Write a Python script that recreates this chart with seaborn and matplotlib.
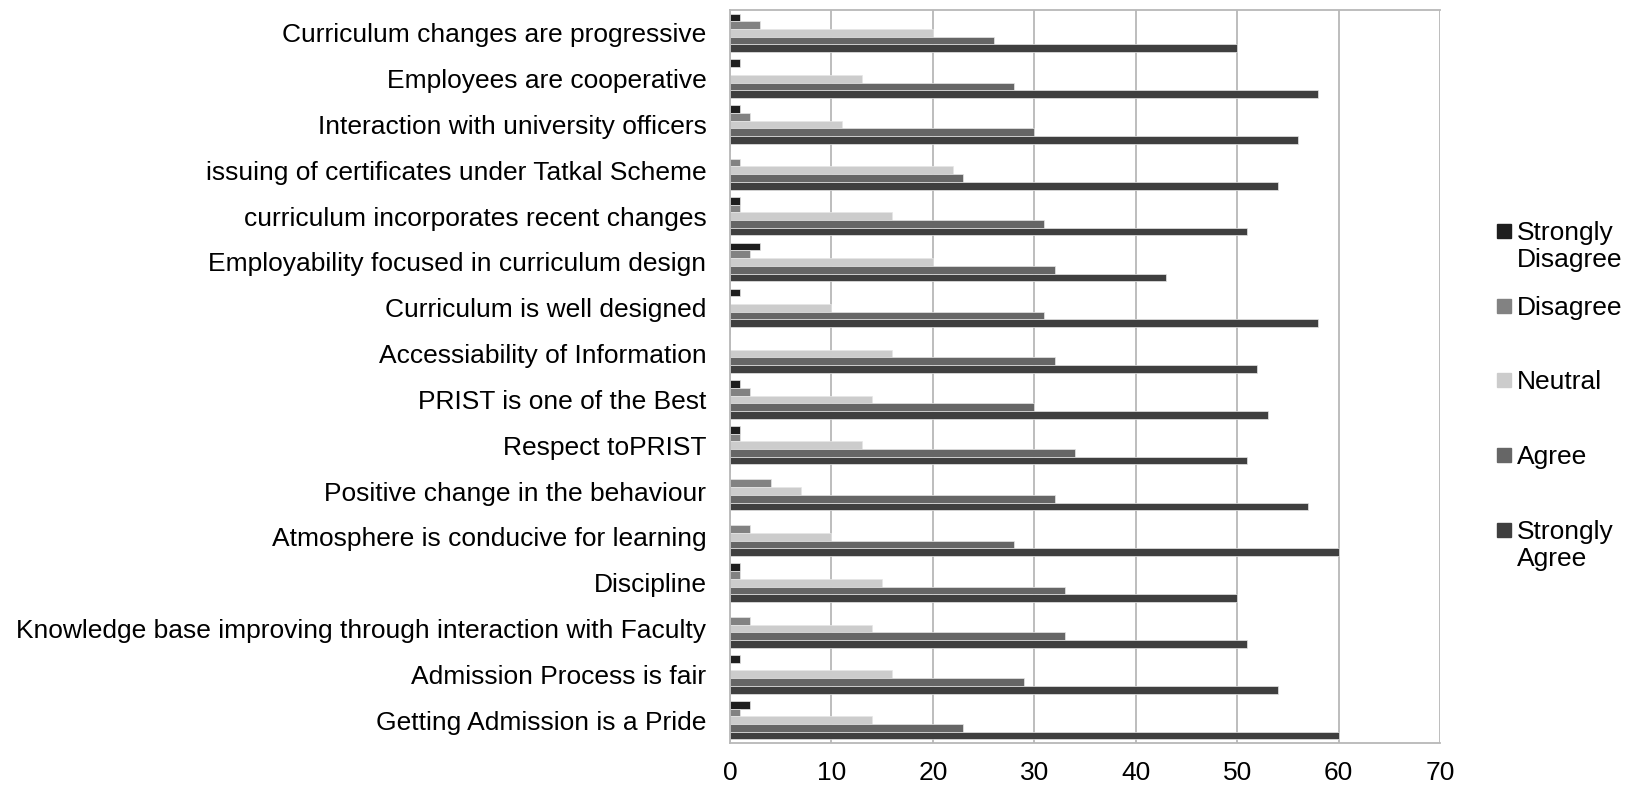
import numpy as np
import pandas as pd
import matplotlib
matplotlib.use("Agg")
import matplotlib.pyplot as plt
import seaborn as sns

statements = [
    "Curriculum changes are progressive",
    "Employees are cooperative",
    "Interaction with university officers",
    "issuing of certificates under Tatkal Scheme",
    "curriculum incorporates recent changes",
    "Employability focused in curriculum design",
    "Curriculum is well designed",
    "Accessiability of Information",
    "PRIST is one of the Best",
    "Respect toPRIST",
    "Positive change in the behaviour",
    "Atmosphere is conducive for learning",
    "Discipline",
    "Knowledge base improving through interaction with Faculty",
    "Admission Process is fair",
    "Getting Admission is a Pride",
]

strongly_disagree = [1, 1, 1, 0, 1, 3, 1, 0, 1, 1, 0, 0, 1, 0, 1, 2]
disagree = [3, 0, 2, 1, 1, 2, 0, 0, 2, 1, 4, 2, 1, 2, 0, 1]
neutral = [20, 13, 11, 22, 16, 20, 10, 16, 14, 13, 7, 10, 15, 14, 16, 14]
agree = [26, 28, 30, 23, 31, 32, 31, 32, 30, 34, 32, 28, 33, 33, 29, 23]
strongly_agree = [50, 58, 56, 54, 51, 43, 58, 52, 53, 51, 57, 60, 50, 51, 54, 60]

responses = ["Strongly Disagree", "Disagree", "Neutral", "Agree", "Strongly Agree"]
legend_labels = ["Strongly\nDisagree", "Disagree", "Neutral", "Agree", "Strongly\nAgree"]
colors = ["#1e1e1e", "#828282", "#cccccc", "#666666", "#3f3f3f"]

# long format for seaborn
rows = []
for vals, resp in zip([strongly_disagree, disagree, neutral, agree, strongly_agree], responses):
    for st, v in zip(statements, vals):
        rows.append({"statement": st, "response": resp, "count": v})
df = pd.DataFrame(rows)

sns.set_style("white")
plt.rcParams["font.family"] = ["Liberation Sans", "DejaVu Sans"]
plt.rcParams["text.color"] = "black"
plt.rcParams["xtick.labelcolor"] = "black"
plt.rcParams["ytick.labelcolor"] = "black"

W, H = 1628, 787
fig, ax = plt.subplots(figsize=(W / 100, H / 100), dpi=100)
fig.subplots_adjust(left=730 / W, right=1440 / W, top=1 - 10 / H, bottom=1 - 743 / H)

sns.barplot(data=df, y="statement", x="count", hue="response", order=statements,
            hue_order=responses, palette=colors, orient="h", width=0.84,
            edgecolor="#e6e6e6", linewidth=0.5, ax=ax, legend=False)

ax.set_xlim(0, 70)
ax.set_ylim(15.5, -0.5)
ax.set_xticks(np.arange(0, 71, 10))
ax.set_xlabel("")
ax.set_ylabel("")
ax.xaxis.grid(True, color="#b8b8b8", linewidth=1.3)
ax.set_axisbelow(True)

fs = 19
ax.set_yticks(np.arange(len(statements)))
ax.set_yticklabels(statements)
ax.set_yticks(np.arange(-0.5, len(statements), 1), minor=True)
ax.tick_params(axis="y", which="major", length=0, pad=17, labelsize=fs)
ax.tick_params(axis="y", which="minor", length=7, width=1.3, color="#b8b8b8")
ax.tick_params(axis="x", which="major", length=7, width=1.3, color="#b8b8b8", labelsize=fs, pad=6)

for side in ["left", "bottom", "top"]:
    ax.spines[side].set_color("#b8b8b8")
    ax.spines[side].set_linewidth(1.3)
ax.spines["right"].set_visible(False)

# legend drawn entry by entry (Excel-like placement)
legend_y = [231, 306, 380, 455, 530]
sq = 14
for lab, c, yc in zip(legend_labels, colors, legend_y):
    fig.patches.append(plt.Rectangle((1497 / W, 1 - (yc + sq / 2) / H), sq / W, sq / H,
                                     transform=fig.transFigure, color=c, figure=fig))
    fig.text(1517 / W, 1 - (yc - 10) / H, lab, va="top", ha="left", fontsize=fs,
             linespacing=1.15)

plt.savefig("out.png", dpi=100)
plt.close()
